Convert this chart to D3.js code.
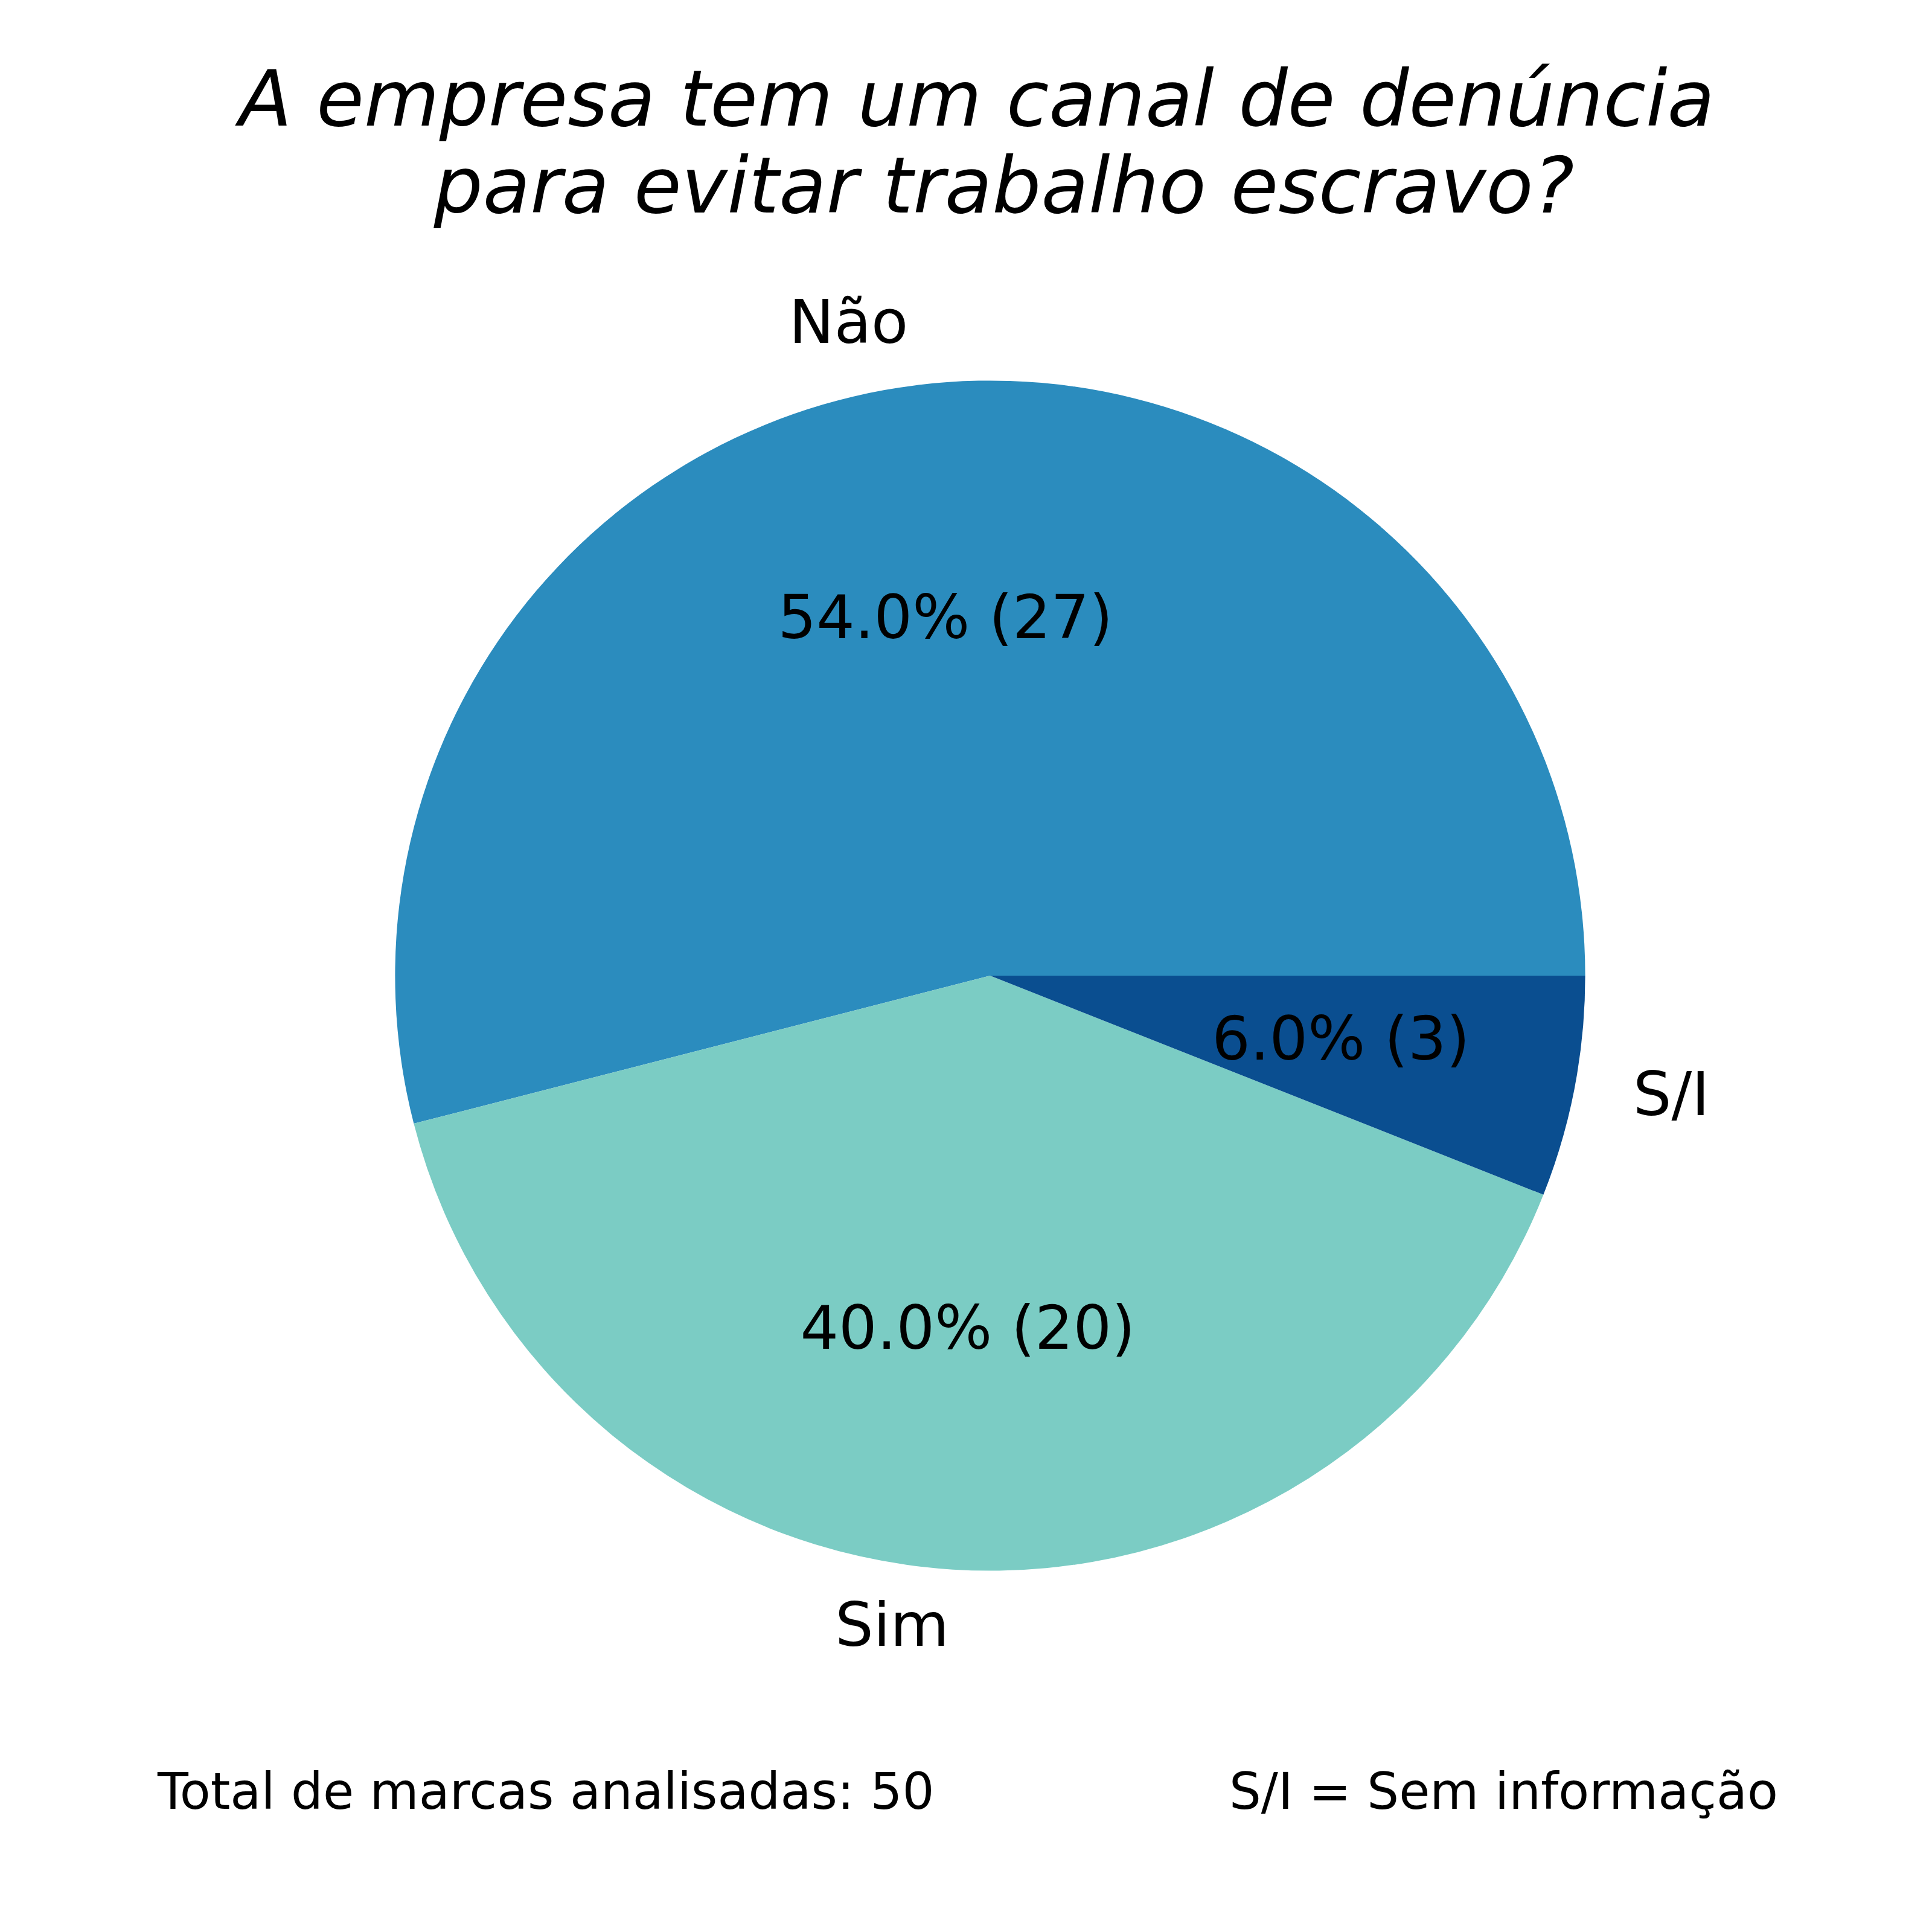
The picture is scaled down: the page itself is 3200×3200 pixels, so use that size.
<!DOCTYPE html>
<html>
<head>
<meta charset="utf-8">
<script src="https://cdn.jsdelivr.net/npm/d3@7"></script>
<style>
  html, body { margin: 0; padding: 0; background: #ffffff; }
  svg { display: block; }
  text { font-family: "DejaVu Sans", sans-serif; fill: #000; }
</style>
</head>
<body>
<script>
const categories = ["Não", "Sim", "S/I"];
const counts = [27, 20, 3];
const colors = ["#2b8cbe", "#7bccc4", "#0a4e90"];
const titleLines = ["A empresa tem um canal de denúncia", "para evitar trabalho escravo?"];
const footerLeft = "Total de marcas analisadas: 50";
const footerRight = "S/I = Sem informação";

const W = 3200, H = 3200;
const cx = 1640, cy = 1616, R = 985.6;

const svg = d3.select("body").append("svg")
  .attr("width", W).attr("height", H)
  .attr("viewBox", `0 0 ${W} ${H}`);

svg.append("rect").attr("width", W).attr("height", H).attr("fill", "#fff");

const total = d3.sum(counts);
const data = categories.map((c, i) => ({ cat: c, value: counts[i], color: colors[i] }));

// matplotlib: start at 3 o'clock, counter-clockwise
const pie = d3.pie().sort(null).value(d => d.value)
  .startAngle(Math.PI / 2).endAngle(Math.PI / 2 - 2 * Math.PI);
const arcs = pie(data);
const arc = d3.arc().innerRadius(0).outerRadius(R);

const g = svg.append("g").attr("transform", `translate(${cx},${cy})`);

g.selectAll("path.slice").data(arcs).enter().append("path")
  .attr("class", "slice")
  .attr("d", arc)
  .attr("fill", d => d.data.color);

function pos(d, f) {
  const a = (d.startAngle + d.endAngle) / 2;
  return [Math.sin(a) * R * f, -Math.cos(a) * R * f];
}

// outer labels
g.selectAll("text.lab").data(arcs).enter().append("text")
  .attr("class", "lab")
  .attr("x", d => pos(d, 1.1)[0])
  .attr("y", d => pos(d, 1.1)[1] + 28)
  .attr("text-anchor", d => pos(d, 1.1)[0] > 0 ? "start" : "end")
  .attr("font-size", 100)
  .text(d => d.data.cat);

// percentage labels
g.selectAll("text.pct").data(arcs).enter().append("text")
  .attr("class", "pct")
  .attr("x", d => pos(d, 0.6)[0])
  .attr("y", d => pos(d, 0.6)[1] + 28)
  .attr("text-anchor", "middle")
  .attr("font-size", 100)
  .text(d => `${(d.data.value / total * 100).toFixed(1)}% (${d.data.value})`);

// title
const titleX = [1618, 1663];
const titleY = [208, 352];
svg.selectAll("text.title").data(titleLines).enter().append("text")
  .attr("class", "title")
  .attr("x", (d, i) => titleX[i])
  .attr("y", (d, i) => titleY[i])
  .attr("text-anchor", "middle")
  .attr("font-size", 128)
  .attr("font-style", "italic")
  .text(d => d);

// footers
svg.append("text").attr("x", 261).attr("y", 2996)
  .attr("font-size", 83.3).text(footerLeft);
svg.append("text").attr("x", 2036).attr("y", 2996)
  .attr("font-size", 83.3).text(footerRight);
</script>
</body>
</html>
